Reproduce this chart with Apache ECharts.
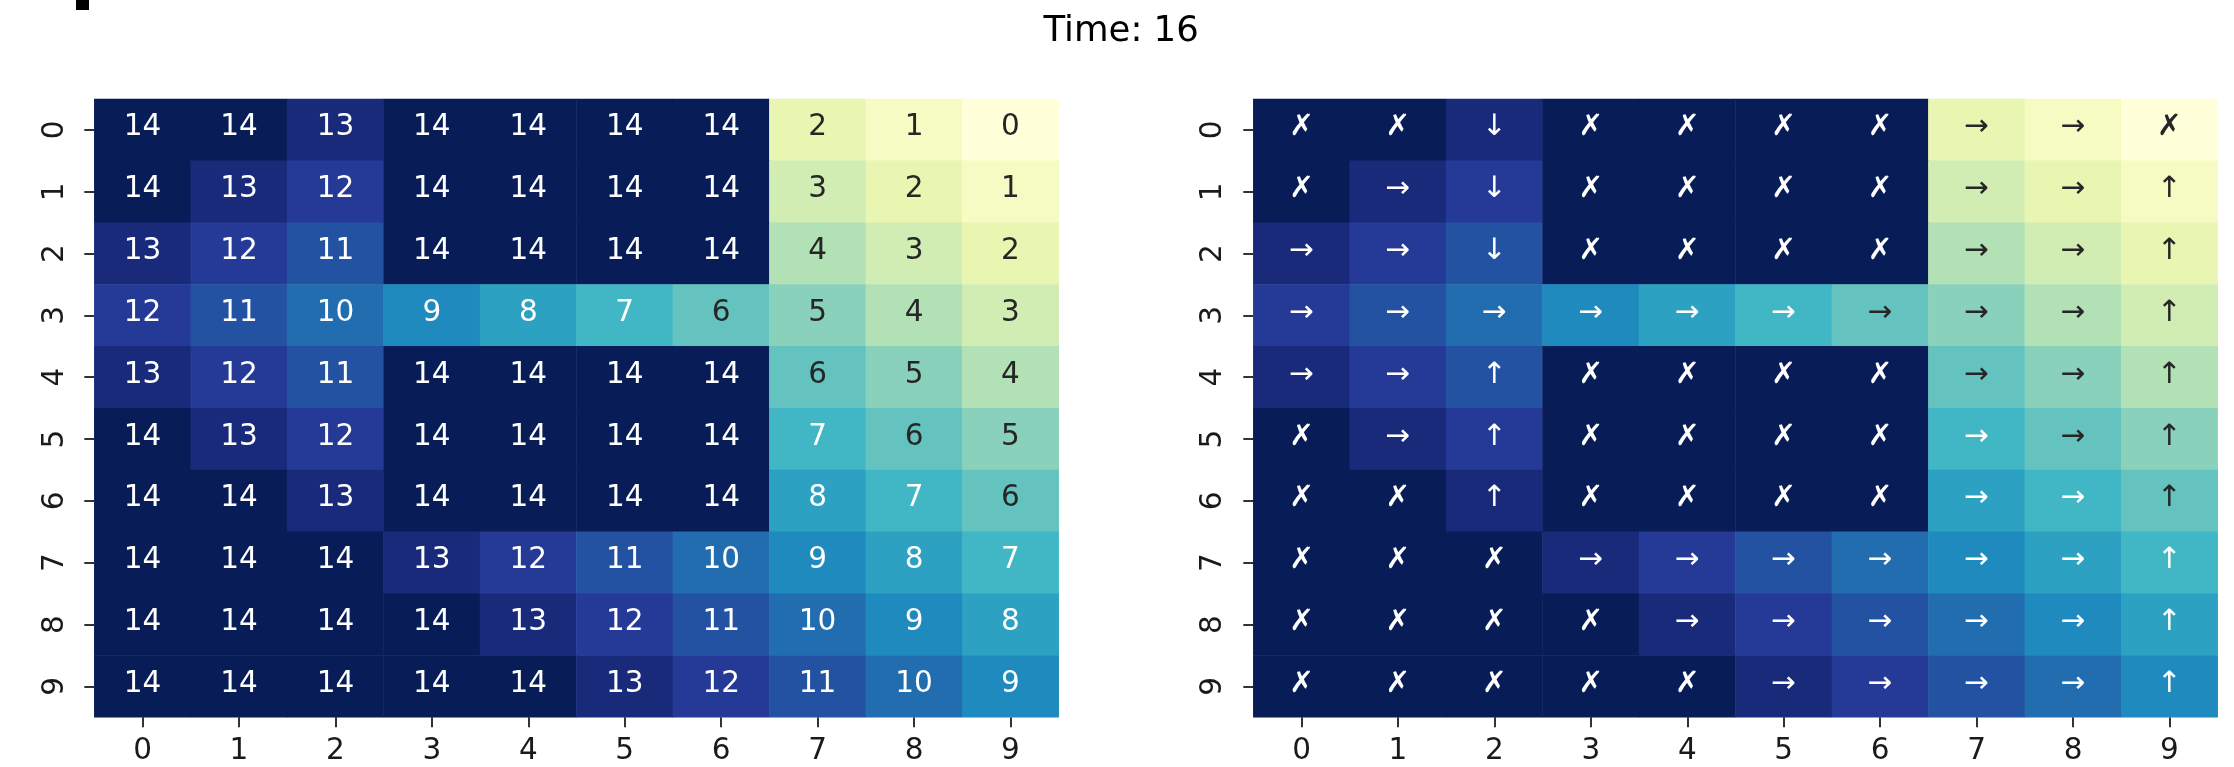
<!DOCTYPE html>
<html>
<head>
<meta charset="utf-8">
<script src="https://cdn.jsdelivr.net/npm/echarts@6/dist/echarts.min.js"></script>
<style>
html, body { margin: 0; padding: 0; background: #ffffff; }
#chart { width: 2234px; height: 767px; }
</style>
</head>
<body>
<div id="chart"></div>
<script>
// ---------------- data ----------------
const titleText = 'Time: 16';
const xCategories = ['0', '1', '2', '3', '4', '5', '6', '7', '8', '9'];
const yCategories = ['0', '1', '2', '3', '4', '5', '6', '7', '8', '9'];

// step counts per cell (row = y, column = x)
const distanceRows = [
  [14, 14, 13, 14, 14, 14, 14, 2, 1, 0],
  [14, 13, 12, 14, 14, 14, 14, 3, 2, 1],
  [13, 12, 11, 14, 14, 14, 14, 4, 3, 2],
  [12, 11, 10, 9, 8, 7, 6, 5, 4, 3],
  [13, 12, 11, 14, 14, 14, 14, 6, 5, 4],
  [14, 13, 12, 14, 14, 14, 14, 7, 6, 5],
  [14, 14, 13, 14, 14, 14, 14, 8, 7, 6],
  [14, 14, 14, 13, 12, 11, 10, 9, 8, 7],
  [14, 14, 14, 14, 13, 12, 11, 10, 9, 8],
  [14, 14, 14, 14, 14, 13, 12, 11, 10, 9]
];

// policy symbol per cell
const policyRows = [
  ['✗', '✗', '↓', '✗', '✗', '✗', '✗', '→', '→', '✗'],
  ['✗', '→', '↓', '✗', '✗', '✗', '✗', '→', '→', '↑'],
  ['→', '→', '↓', '✗', '✗', '✗', '✗', '→', '→', '↑'],
  ['→', '→', '→', '→', '→', '→', '→', '→', '→', '↑'],
  ['→', '→', '↑', '✗', '✗', '✗', '✗', '→', '→', '↑'],
  ['✗', '→', '↑', '✗', '✗', '✗', '✗', '→', '→', '↑'],
  ['✗', '✗', '↑', '✗', '✗', '✗', '✗', '→', '→', '↑'],
  ['✗', '✗', '✗', '→', '→', '→', '→', '→', '→', '↑'],
  ['✗', '✗', '✗', '✗', '→', '→', '→', '→', '→', '↑'],
  ['✗', '✗', '✗', '✗', '✗', '→', '→', '→', '→', '↑']
];

// ---------------- style helpers ----------------
const YLGNBU = ['#ffffd9', '#edf8b1', '#c7e9b4', '#7fcdbb', '#41b6c4', '#1d91c0', '#225ea8', '#253494', '#081d58'];
const FONT = '"DejaVu Sans", "Noto Sans", sans-serif';

let vMin = Infinity, vMax = -Infinity;
distanceRows.forEach(r => r.forEach(v => { vMin = Math.min(vMin, v); vMax = Math.max(vMax, v); }));

function hexRgb(h) { return [1, 3, 5].map(i => parseInt(h.substr(i, 2), 16)); }
function cmap(t) {
  const n = YLGNBU.length - 1;
  const p = Math.min(Math.max(t, 0), 1) * n;
  const i = Math.min(Math.floor(p), n - 1);
  const f = p - i;
  const a = hexRgb(YLGNBU[i]), b = hexRgb(YLGNBU[i + 1]);
  return a.map((c, k) => c + (b[k] - c) * f);
}
function luminance(rgb) {
  const l = rgb.map(c => { c /= 255; return c <= 0.03928 ? c / 12.92 : Math.pow((c + 0.055) / 1.055, 2.4); });
  return 0.2126 * l[0] + 0.7152 * l[1] + 0.0722 * l[2];
}
function textColorFor(v) {
  return luminance(cmap((v - vMin) / (vMax - vMin))) > 0.408 ? '#262626' : '#ffffff';
}

function buildData() {
  const out = [];
  distanceRows.forEach((row, r) => row.forEach((v, c) => {
    out.push({ value: [c, r, v], label: { color: textColorFor(v) } });
  }));
  return out;
}

const GRID_W = 964.4, GRID_H = 618.3, GRID_TOP = 99;

function xAxisFor(gi) {
  return {
    type: 'category', gridIndex: gi, data: xCategories, position: 'bottom',
    axisLine: { show: false },
    axisTick: { show: true, alignWithLabel: true, interval: 0, length: 10, lineStyle: { color: '#333333', width: 2 } },
    axisLabel: { interval: 0, margin: 18.7, fontFamily: FONT, fontSize: 29.5, lineHeight: 30, color: '#1a1a1a' },
    splitLine: { show: false }
  };
}
function yAxisFor(gi, margin) {
  return {
    type: 'category', gridIndex: gi, data: yCategories, inverse: true, position: 'left',
    axisLine: { show: false },
    axisTick: { show: true, alignWithLabel: true, interval: 0, length: 10, lineStyle: { color: '#333333', width: 2 } },
    axisLabel: { interval: 0, rotate: 90, margin: margin, fontFamily: FONT, fontSize: 29.5, lineHeight: 30, color: '#1a1a1a' },
    splitLine: { show: false }
  };
}

const labelBase = { show: true, fontFamily: FONT, fontSize: 29.5, offset: [0, -2.2] };

const option = {
  backgroundColor: '#ffffff',
  animation: false,
  title: {
    text: titleText,
    left: 1043.5,
    top: 14,
    padding: 0,
    textStyle: { fontFamily: FONT, fontSize: 35.5, fontWeight: 'normal', color: '#000000', lineHeight: 36 }
  },
  graphic: [
    { type: 'rect', shape: { x: 76, y: 0, width: 13, height: 10 }, style: { fill: '#000000' }, silent: true }
  ],
  grid: [
    { left: 94.3, top: GRID_TOP, width: GRID_W, height: GRID_H },
    { left: 1253.3, top: GRID_TOP, width: GRID_W, height: GRID_H }
  ],
  xAxis: [xAxisFor(0), xAxisFor(1)],
  yAxis: [yAxisFor(0, 23.5), yAxisFor(1, 25)],
  visualMap: {
    type: 'continuous', show: false, min: vMin, max: vMax, dimension: 2,
    seriesIndex: [0, 1], inRange: { color: YLGNBU }
  },
  series: [
    {
      type: 'heatmap', xAxisIndex: 0, yAxisIndex: 0, data: buildData(),
      itemStyle: { borderWidth: 0 },
      label: Object.assign({}, labelBase, { formatter: p => String(p.value[2]) }),
      emphasis: { disabled: true }
    },
    {
      type: 'heatmap', xAxisIndex: 1, yAxisIndex: 1, data: buildData(),
      itemStyle: { borderWidth: 0 },
      label: Object.assign({}, labelBase, { formatter: p => policyRows[p.value[1]][p.value[0]] }),
      emphasis: { disabled: true }
    }
  ]
};

const chart = echarts.init(document.getElementById('chart'), null, { renderer: 'canvas' });
chart.setOption(option);
</script>
</body>
</html>
